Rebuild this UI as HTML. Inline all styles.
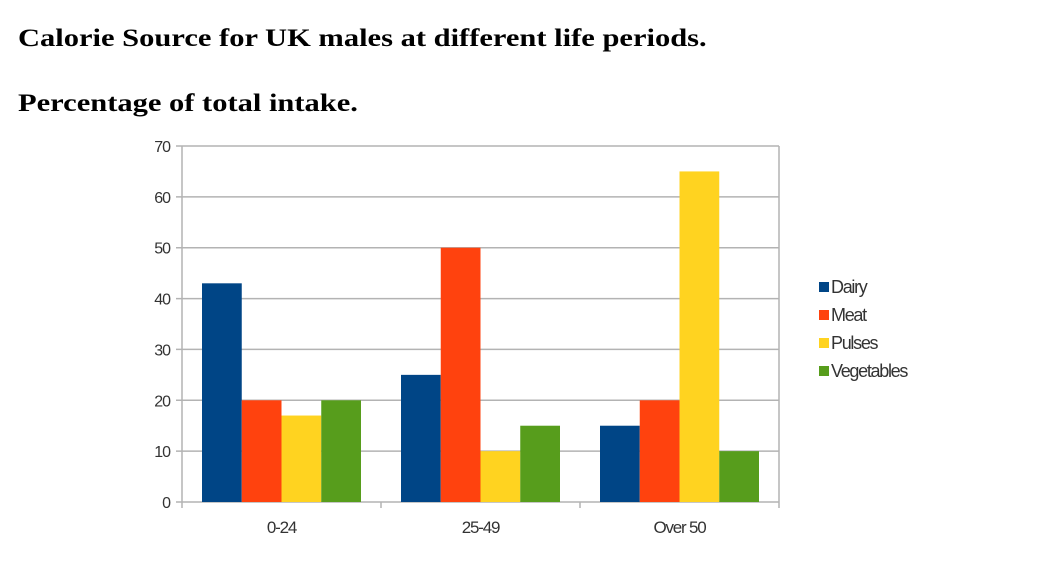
<!DOCTYPE html>
<html><head><meta charset="utf-8"><style>
body{margin:0;background:#fff;width:1042px;height:562px;overflow:hidden}
.t{position:absolute;left:18px;font-family:"Liberation Serif",serif;font-weight:bold;font-size:25px;color:#000;margin:0;transform-origin:0 0;transform:scaleX(1.22);white-space:nowrap}
</style></head><body>
<h1 class="t" style="top:25px">Calorie Source for UK males at different life periods.</h1>
<h2 class="t" style="top:90px">Percentage of total intake.</h2>
<svg id="c" width="1042" height="562" style="position:absolute;left:0;top:0"></svg>
<script>
const categories=["0-24","25-49","Over 50"];
const seriesNames=["Dairy","Meat","Pulses","Vegetables"];
const dairy=[43,25,15];
const meat=[20,50,20];
const pulses=[17,10,65];
const vegetables=[20,15,10];
const yTicks=[0,10,20,30,40,50,60,70];
const colors=["#004586","#ff420e","#ffd320","#579d1c"];
const series=[dairy,meat,pulses,vegetables];
const svg=document.getElementById('c');
const NS='http://www.w3.org/2000/svg';
const X0=182,X1=779,Y0=502,Y1=146,YMAX=70;
const band=(X1-X0)/categories.length;
const y=v=>Y0-(v/YMAX)*(Y0-Y1);
function mk(t,a){const e=document.createElementNS(NS,t);for(const k in a)e.setAttribute(k,a[k]);svg.appendChild(e);return e;}
yTicks.forEach(v=>{
  const g=mk('line',{x1:X0-6,x2:X1,y1:y(v),y2:y(v),stroke:'#b3b3b3','stroke-width':1.5});
  
  
  const tx=mk('text',{x:X0-12,y:y(v)+6,'text-anchor':'end','font-family':'Liberation Sans, sans-serif','font-size':16,fill:'#333','letter-spacing':-1});
  tx.textContent=v;
  
  
});
mk('line',{x1:X0,x2:X0,y1:Y1,y2:Y0+6,stroke:'#b3b3b3','stroke-width':1.5});
mk('line',{x1:X1,x2:X1,y1:Y1,y2:Y0,stroke:'#b3b3b3','stroke-width':1.5});
const pad=20,bw=(band-2*pad)/series.length;
categories.forEach((c,i)=>{
  const bx=X0+i*band;
  mk('line',{x1:bx+band,x2:bx+band,y1:Y0,y2:Y0+6,stroke:'#b3b3b3','stroke-width':1.5});
  series.forEach((s,j)=>{
    const r=mk('rect',{x:bx+pad+j*bw,y:y(s[i]),width:bw,height:Y0-y(s[i]),fill:colors[j]});
    
    
  });
  const tx=mk('text',{x:bx+band/2,y:Y0+31,'text-anchor':'middle','font-family':'Liberation Sans, sans-serif','font-size':17,fill:'#333','letter-spacing':-1.2});
  tx.textContent=c;
  
  
});
seriesNames.forEach((n,j)=>{
  const yy=286+j*28;
  const r=mk('rect',{x:819,y:yy-4,width:10,height:10,fill:colors[j]});
  
  
  const tx=mk('text',{x:831,y:yy+7,'font-family':'Liberation Sans, sans-serif','font-size':18,fill:'#333','letter-spacing':-1.3});
  tx.textContent=n;
  
  
});
</script>
</body></html>
